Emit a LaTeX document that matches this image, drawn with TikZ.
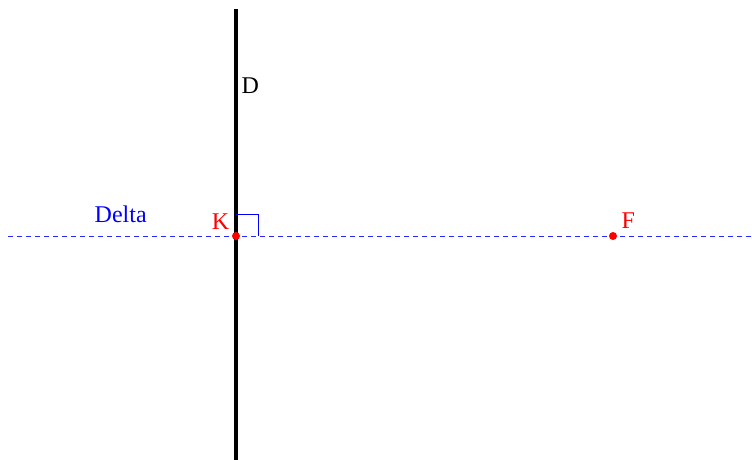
\documentclass[tikz,border=0pt]{standalone}
\usepackage{fontspec}
\setmainfont{Liberation Serif}
\begin{document}
\begin{tikzpicture}[x=1pt,y=-1pt,
  lbl/.style={inner sep=0pt,font=\fontsize{24}{26}\selectfont},
  dot/.style={circle,fill=red,inner sep=0pt,minimum size=8pt}]
\useasboundingbox (0,0) rectangle (752,460);
\coordinate (Dtop) at (236,9.5);
\coordinate (Dbot) at (236,460);
\coordinate (L) at (8,236);
\coordinate (R) at (752,236);
\draw[blue!85,dashed,dash pattern=on 5pt off 4pt,line width=1pt] (L) -- (R);
\draw[line width=4.5pt] (Dtop) -- (Dbot);
\draw[blue,line width=1pt] (236,214) -- (258,214) -- (258,236);
\node[dot] (K) at (236,236) {};
\node[dot] (F) at (613,236) {};
\node[lbl,anchor=base west] (Dl) at (241.5,93.5) {D};
\node[lbl,anchor=base west,text=blue] (Delta) at (94.5,222) {Delta};
\node[lbl,anchor=base east,text=red] (Kl) at (229.5,229.5) {K};
\node[lbl,anchor=base west,text=red] (Fl) at (621.5,228.5) {F};
\end{tikzpicture}
\end{document}
